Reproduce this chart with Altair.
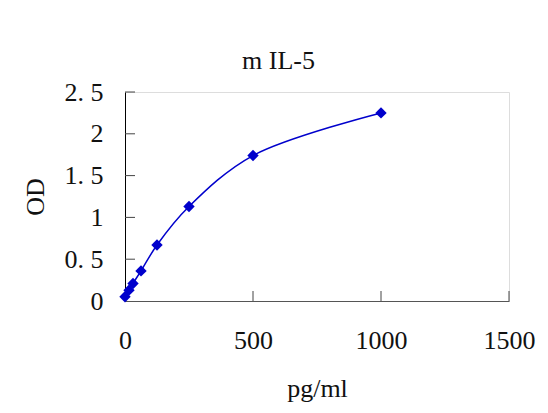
import altair as alt
import pandas as pd

conc = [0, 15.625, 31.25, 62.5, 125, 250, 500, 1000]
od = [0.05, 0.13, 0.21, 0.36, 0.67, 1.13, 1.74, 2.25]
x_ticks = [500, 1000, 1500]
y_ticks = [0.5, 1.0, 1.5, 2.0, 2.5]

df = pd.DataFrame({"conc": conc, "od": od})
xt = pd.DataFrame({"v": x_ticks})
yt = pd.DataFrame({"v": y_ticks})

FONT = "Liberation Serif"
BLUE = "#0000CC"
W, H = 384, 209

xscale = alt.Scale(domain=[0, 1500], nice=False, zero=True)
yscale = alt.Scale(domain=[0, 2.5], nice=False, zero=True)

xaxis = alt.Axis(values=[0, 500, 1000, 1500], format="d", ticks=False, grid=False,
                 domainColor="#555555", labelFont=FONT, labelFontSize=26, labelColor="#111111",
                 labelPadding=26, title="pg/ml", titleFont=FONT, titleFontSize=26,
                 titleFontWeight="normal", titleColor="#111111", titlePadding=22,
                 labelFlush=False)
yaxis = alt.Axis(values=[0, 0.5, 1, 1.5, 2, 2.5], ticks=False, grid=False,
                 domainColor="#000000",
                 labelExpr="replace(format(datum.value, '.1~f'), '.', '. ')",
                 labelFont=FONT, labelFontSize=26, labelColor="#111111", labelPadding=22,
                 title="OD", titleFont=FONT, titleFontSize=26, titleFontWeight="normal",
                 titleColor="#111111", titlePadding=16, labelFlush=False)

line = alt.Chart(df).mark_line(color=BLUE, strokeWidth=1.5, interpolate="catmull-rom").encode(
    x=alt.X("conc:Q", scale=xscale, axis=xaxis),
    y=alt.Y("od:Q", scale=yscale, axis=yaxis),
)
pts = alt.Chart(df).mark_point(shape="diamond", filled=True, color=BLUE, size=130, opacity=1).encode(
    x=alt.X("conc:Q", scale=xscale),
    y=alt.Y("od:Q", scale=yscale),
)
yticks = alt.Chart(yt).mark_rule(color="#444444", strokeWidth=1).encode(
    y=alt.Y("v:Q", scale=yscale),
    x=alt.value(0), x2=alt.value(10),
)
xticks = alt.Chart(xt).mark_rule(color="#444444", strokeWidth=1).encode(
    x=alt.X("v:Q", scale=xscale),
    y=alt.value(H), y2=alt.value(H - 10),
)

chart = alt.layer(line, pts, yticks, xticks).properties(
    width=W, height=H,
    title=alt.TitleParams("m IL-5", font=FONT, fontSize=26, fontWeight="normal",
                          color="#111111", anchor="middle", frame="bounds", offset=5),
    autosize=alt.AutoSizeParams(type="none"),
    padding={"left": 117, "top": 84, "right": 30, "bottom": 110},
).configure_view(stroke=None).configure(background="white")

chart.save("out.html", embed_options={"renderer": "svg", "actions": False})
